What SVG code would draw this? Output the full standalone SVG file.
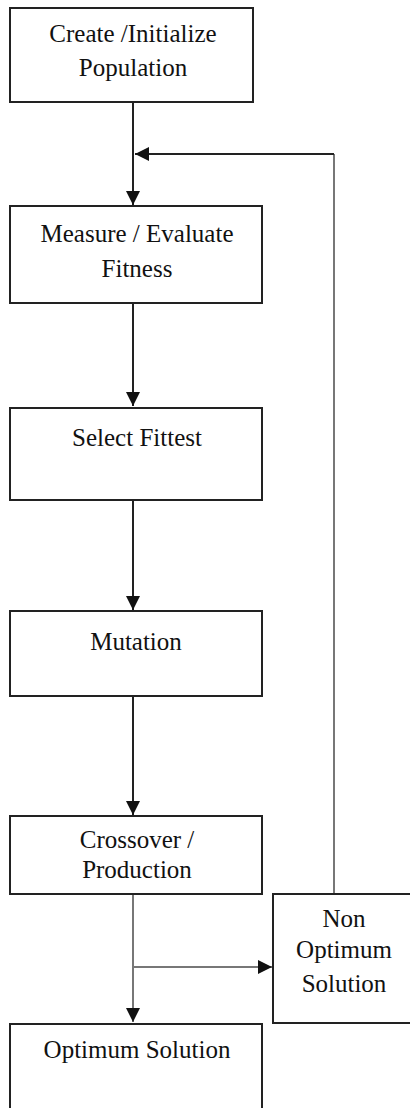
<svg xmlns="http://www.w3.org/2000/svg" width="410" height="1108" viewBox="0 0 410 1108">
<style>
.box{fill:#fff;stroke:#222;stroke-width:2}
.t{font-family:'Liberation Serif','Times New Roman',Tinos,'DejaVu Serif',serif;font-size:25px;fill:#111;text-anchor:middle}
.c{fill:none;stroke:#222;stroke-width:2}
.g{fill:none;stroke:#777;stroke-width:2}
</style>
<defs>
<marker id="ah" viewBox="0 0 14 14" refX="14" refY="7" markerWidth="14" markerHeight="14" markerUnits="userSpaceOnUse" orient="auto">
<path d="M0,0 L14,7 L0,14 Z" fill="#111"/>
</marker>
</defs>
<rect width="410" height="1108" fill="#fff"/>
<g id="connectors">
<path class="c" d="M133,102 V205" marker-end="url(#ah)"/>
<path class="g" d="M334,894 V154"/>
<path class="c" d="M334,154 H135" marker-end="url(#ah)"/>
<path class="c" d="M133,303 V406" marker-end="url(#ah)"/>
<path class="c" d="M133,500 V610" marker-end="url(#ah)"/>
<path class="c" d="M133,696 V815" marker-end="url(#ah)"/>
<path class="g" d="M133,894 V1022" marker-end="url(#ah)"/>
<path class="g" d="M133,967 H272" marker-end="url(#ah)"/>
</g>
<g id="n1">
<rect class="box" x="10" y="8" width="243" height="94"/>
<text class="t" x="133" y="42">Create /Initialize</text>
<text class="t" x="133" y="76">Population</text>
</g>
<g id="n2">
<rect class="box" x="10" y="206" width="252" height="97"/>
<text class="t" x="137" y="242">Measure / Evaluate</text>
<text class="t" x="137" y="277">Fitness</text>
</g>
<g id="n3">
<rect class="box" x="10" y="408" width="252" height="92"/>
<text class="t" x="137" y="446">Select Fittest</text>
</g>
<g id="n4">
<rect class="box" x="10" y="611" width="252" height="85"/>
<text class="t" x="136" y="650">Mutation</text>
</g>
<g id="n5">
<rect class="box" x="10" y="816" width="252" height="78"/>
<text class="t" x="137" y="848">Crossover /</text>
<text class="t" x="137" y="878">Production</text>
</g>
<g id="n6">
<rect class="box" x="273" y="894" width="145" height="129"/>
<text class="t" x="344" y="927">Non</text>
<text class="t" x="344" y="958">Optimum</text>
<text class="t" x="344" y="992">Solution</text>
</g>
<g id="n7">
<rect class="box" x="10" y="1024" width="252" height="95"/>
<text class="t" x="137" y="1058">Optimum Solution</text>
</g>
</svg>
